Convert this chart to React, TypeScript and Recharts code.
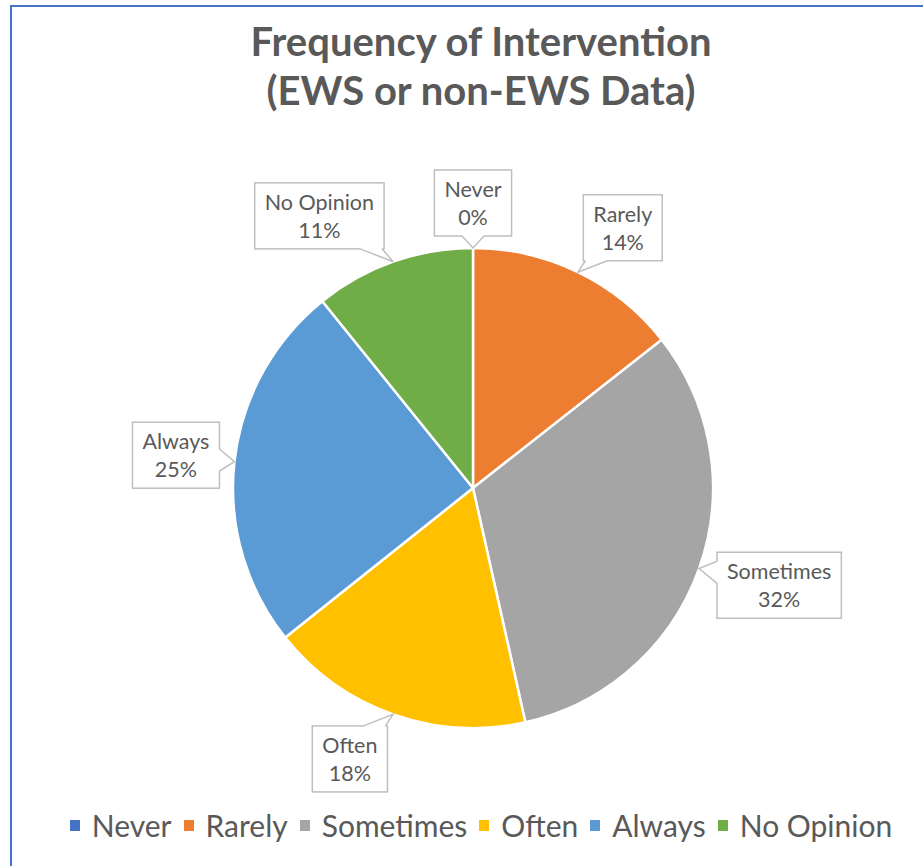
import { PieChart, Pie, Cell, Legend } from "recharts";

// slice order, clockwise from 12 o'clock
const categories = ["Never", "Rarely", "Sometimes", "Often", "Always", "No Opinion"];
const shares = [0, 14.4, 32.1, 17.8, 24.9, 10.8];
const colors = ["#4472C4", "#ED7D31", "#A5A5A5", "#FFC000", "#5B9BD5", "#70AD47"];

const titleLines = ["Frequency of Intervention", "(EWS or non-EWS Data)"];

// Excel's "best fit" shifts some callouts off the slice's mid angle (degrees)
const labelNudge: Record<string, number> = { Rarely: -4, Sometimes: 2, Often: -5, "No Opinion": 10 };

const data = categories.map((name, i) => ({ name, value: shares[i] }));

const FONT = "Lato, 'Open Sans', sans-serif";
const TEXT = "#595959";
const RADIAN = Math.PI / 180;
const LABEL_SIZE = 21.5;

let ctx: CanvasRenderingContext2D | null = null;
function textWidth(s: string, size: number) {
  if (!ctx) ctx = document.createElement("canvas").getContext("2d");
  if (!ctx) return s.length * size * 0.5;
  ctx.font = `${size}px Lato`;
  return ctx.measureText(s).width;
}

function CalloutLabel(props: any) {
  const { cx, cy, midAngle, outerRadius, percent, name } = props;
  const pct = `${Math.round(percent * 100)}%`;

  // tip sits on the slice edge
  const ta = -midAngle * RADIAN;
  const tx = cx + outerRadius * Math.cos(ta);
  const ty = cy + outerRadius * Math.sin(ta);

  const la = -(midAngle + (labelNudge[name] ?? 0)) * RADIAN;
  const ux = Math.cos(la);
  const uy = Math.sin(la);
  const w = Math.max(textWidth(name, LABEL_SIZE), textWidth(pct, LABEL_SIZE)) + 20;
  const h = 66;
  const dist = outerRadius + 12 + (w / 2) * Math.abs(ux) + (h / 2) * Math.abs(uy);
  const bx = cx + dist * ux;
  const by = cy + dist * uy;
  const left = bx - w / 2;
  const top = by - h / 2;

  // where the line from box center to tip leaves the box
  const dx = tx - bx;
  const dy = ty - by;
  const txx = dx === 0 ? Infinity : w / 2 / Math.abs(dx);
  const tyy = dy === 0 ? Infinity : h / 2 / Math.abs(dy);
  const half = 11;
  let b1: number[];
  let b2: number[];
  let i1: number[];
  let i2: number[];
  if (tyy <= txx) {
    const ey = dy > 0 ? top + h : top;
    let px = bx + tyy * dx;
    px = Math.min(Math.max(px, left + half + 2), left + w - half - 2);
    const inset = dy > 0 ? -2 : 2;
    b1 = [px - half, ey];
    b2 = [px + half, ey];
    i1 = [px - half, ey + inset];
    i2 = [px + half, ey + inset];
  } else {
    const ex = dx > 0 ? left + w : left;
    let py = by + txx * dy;
    py = Math.min(Math.max(py, top + half + 2), top + h - half - 2);
    const inset = dx > 0 ? -2 : 2;
    b1 = [ex, py - half];
    b2 = [ex, py + half];
    i1 = [ex + inset, py - half];
    i2 = [ex + inset, py + half];
  }

  return (
    <g>
      <rect x={left} y={top} width={w} height={h} fill="#fff" stroke="#BFBFBF" strokeWidth={1.5} />
      <polygon points={`${i1.join(",")} ${b1.join(",")} ${tx},${ty} ${b2.join(",")} ${i2.join(",")}`} fill="#fff" />
      <polyline points={`${b1.join(",")} ${tx},${ty} ${b2.join(",")}`} fill="none" stroke="#BFBFBF" strokeWidth={1.5} />
      <text x={bx} y={top + 27} textAnchor="middle" fontFamily={FONT} fontSize={LABEL_SIZE} fill={TEXT}>
        {name}
      </text>
      <text x={bx} y={top + 55} textAnchor="middle" fontFamily={FONT} fontSize={LABEL_SIZE} fill={TEXT}>
        {pct}
      </text>
    </g>
  );
}

// legend keeps the slice order (recharts would sort it by name)
function renderLegend() {
  return (
    <div style={{ display: "flex", justifyContent: "center", alignItems: "center", gap: 12 }}>
      {categories.map((c, i) => (
        <div key={c} style={{ display: "flex", alignItems: "center" }}>
          <span style={{ width: 10, height: 11, background: colors[i], display: "inline-block", marginRight: 12 }} />
          <span style={{ fontFamily: FONT, fontSize: 30, color: TEXT, lineHeight: "34px" }}>{c}</span>
        </div>
      ))}
    </div>
  );
}

export default function App() {
  return (
    <div style={{ position: "absolute", left: 0, top: 0, width: 923, height: 866, overflow: "hidden", background: "#fff" }}>
      {/* outer chart border, runs off the right/bottom edge */}
      <div
        style={{
          position: "absolute",
          left: 10,
          top: 5,
          width: 960,
          height: 900,
          border: "2px solid #4472C4",
          boxSizing: "border-box",
        }}
      />

      {/* TITLE */}
      <div
        style={{
          position: "absolute",
          left: 10,
          top: 17,
          width: 942,
          textAlign: "center",
          fontFamily: FONT,
          fontWeight: 700,
          fontSize: 40,
          lineHeight: "49px",
          color: TEXT,
        }}
      >
        {titleLines.map((t) => (
          <div key={t}>{t}</div>
        ))}
      </div>

      <div style={{ position: "absolute", left: 0, top: 0 }}>
        <PieChart width={960} height={866} margin={{ top: 0, right: 0, bottom: 0, left: 0 }}>
          <Pie
            data={data}
            dataKey="value"
            nameKey="name"
            cx={473}
            cy={488}
            outerRadius={240}
            startAngle={90}
            endAngle={-270}
            stroke="#fff"
            strokeWidth={2.5}
            label={CalloutLabel}
            labelLine={false}
            isAnimationActive={false}
          >
            {data.map((d, i) => (
              <Cell key={d.name} fill={colors[i]} />
            ))}
          </Pie>
          <Legend
            content={renderLegend}
            wrapperStyle={{ position: "absolute", left: 10, top: 808, width: 942 }}
          />
        </PieChart>
      </div>
    </div>
  );
}
